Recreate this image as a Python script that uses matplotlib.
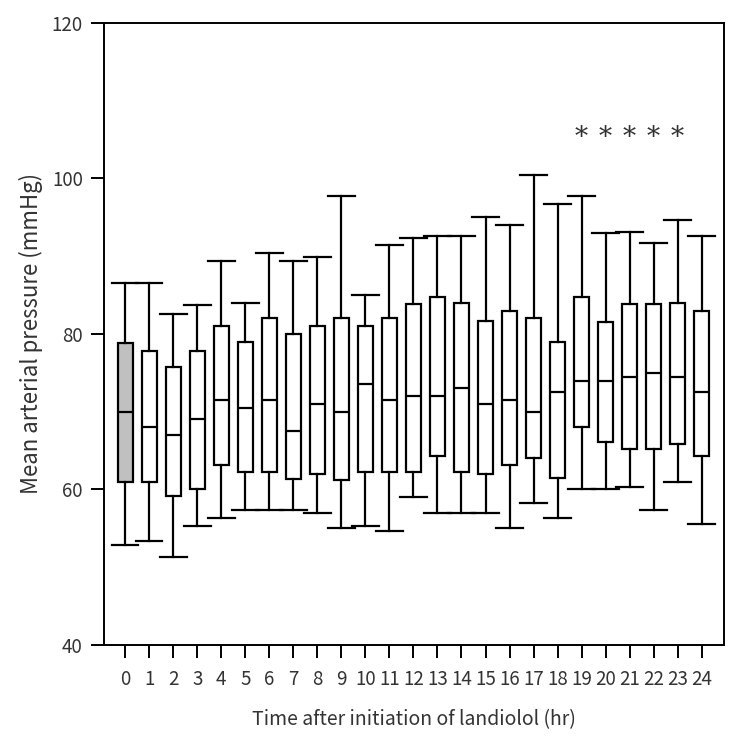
import matplotlib
matplotlib.use("Agg")
import matplotlib.pyplot as plt

plt.rcParams["font.family"] = ["Noto Sans CJK JP", "DejaVu Sans"]

# hours after landiolol start
hours = list(range(25))
whis_hi = [86.6, 86.6, 82.6, 83.7, 89.4, 84.0, 90.4, 89.4, 89.9, 97.7, 85.0, 91.4, 92.4,
           92.6, 92.6, 95.1, 94.0, 100.4, 96.7, 97.7, 93.0, 93.1, 91.7, 94.6, 92.6]
q3 = [78.8, 77.8, 75.7, 77.8, 81.0, 79.0, 82.0, 80.0, 81.0, 82.0, 81.0, 82.0, 83.8,
      84.8, 84.0, 81.7, 83.0, 82.0, 79.0, 84.7, 81.5, 83.8, 83.8, 84.0, 83.0]
median = [70.0, 68.0, 67.0, 69.0, 71.5, 70.5, 71.5, 67.5, 71.0, 70.0, 73.5, 71.5, 72.0,
          72.0, 73.0, 71.0, 71.5, 70.0, 72.5, 74.0, 74.0, 74.5, 75.0, 74.5, 72.5]
q1 = [61.0, 61.0, 59.2, 60.0, 63.2, 62.2, 62.2, 61.3, 62.0, 61.2, 62.2, 62.2, 62.2,
      64.3, 62.2, 62.0, 63.2, 64.0, 61.5, 68.0, 66.1, 65.2, 65.2, 65.9, 64.3]
whis_lo = [52.9, 53.4, 51.3, 55.3, 56.3, 57.3, 57.3, 57.3, 57.0, 55.0, 55.3, 54.6, 59.0,
           57.0, 57.0, 57.0, 55.0, 58.3, 56.3, 60.0, 60.0, 60.3, 57.3, 61.0, 55.6]
# hours marked significant
sig_hours = [19, 20, 21, 22, 23]
sig_y = 105.3

stats = []
for h, lo, a, m, b, hi in zip(hours, whis_lo, q1, median, q3, whis_hi):
    stats.append({"label": str(h), "whislo": lo, "q1": a, "med": m, "q3": b,
                  "whishi": hi, "fliers": []})

fig = plt.figure(figsize=(7.5, 7.38), dpi=100)
ax = fig.add_axes([0.139, 0.126, 0.826, 0.843])

lw = 1.6
bp = ax.bxp(stats, positions=hours, widths=0.625, capwidths=1.1,
            showfliers=False, patch_artist=True,
            boxprops=dict(linewidth=lw, edgecolor="black", facecolor="white"),
            medianprops=dict(color="black", linewidth=lw),
            whiskerprops=dict(color="black", linewidth=lw),
            capprops=dict(color="black", linewidth=lw))
bp["boxes"][0].set_facecolor("#c0c0c0")

for h in sig_hours:
    ax.text(h, sig_y, "*", ha="center", va="center", fontsize=19,
            color="#333333", family="DejaVu Serif")

ax.set_xlim(-0.875, 24.92)
ax.set_ylim(40, 120)
ax.set_yticks([40, 60, 80, 100, 120])
ax.set_xticks(hours)
ax.set_xticklabels([str(h) for h in hours])
ax.tick_params(axis="both", direction="out", length=9.4, width=1.4,
               labelsize=13.5, labelcolor="#333333")
ax.tick_params(axis="y", pad=6)
ax.tick_params(axis="x", pad=8)
for s in ax.spines.values():
    s.set_linewidth(1.4)

ax.set_ylabel("Mean arterial pressure (mmHg)", fontsize=16, color="#333333", labelpad=6)
ax.set_xlabel("Time after initiation of landiolol (hr)", fontsize=14, color="#333333",
              labelpad=14)

fig.savefig("out.png", dpi=100)
